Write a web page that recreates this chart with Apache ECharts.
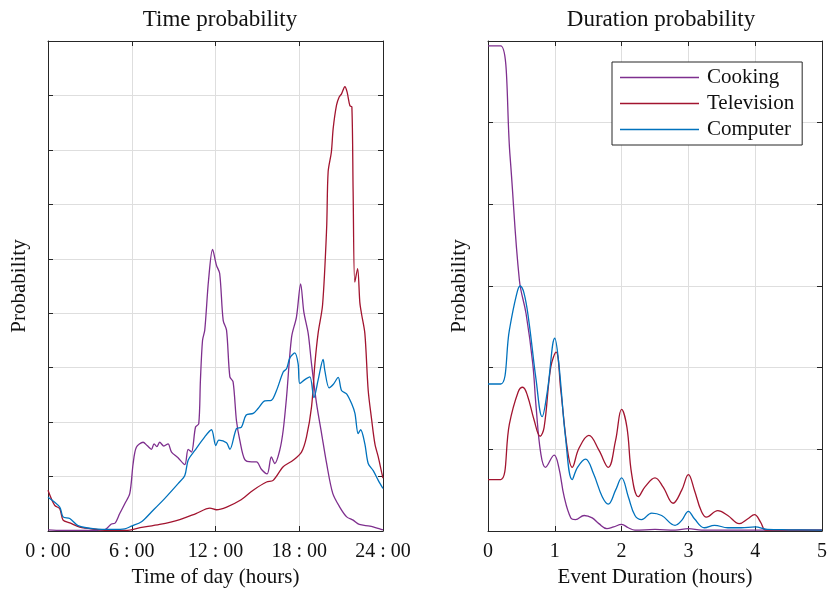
<!DOCTYPE html>
<html>
<head>
<meta charset="utf-8">
<script src="https://cdn.jsdelivr.net/npm/echarts@6/dist/echarts.min.js"></script>
<style>
  html, body { margin: 0; padding: 0; background: #fff; }
  #chart { width: 830px; height: 593px; }
</style>
</head>
<body>
<div id="chart"></div>
<script>
// left panel: time of day (hours) vs probability
const timeTicks = ['0 : 00', '6 : 00', '12 : 00', '18 : 00', '24 : 00'];
const cookingTime = [[0,0.02],[1,0.01],[2,0.01],[3,0.01],[4,0.02],[4.18,0.04],[4.54,0.13],[4.78,0.14],[5.14,0.32],[5.5,0.5],[5.86,0.69],
  [6.1,1.24],[6.33,1.54],[6.81,1.63],[7.1,1.57],[7.41,1.5],[7.6,1.6],[7.8,1.55],[8.0,1.63],[8.3,1.56],[8.6,1.6],[8.85,1.45],[9.3,1.35],
  [9.8,1.22],[10.04,1.5],[10.28,1.45],[10.57,1.91],[10.8,1.97],[10.92,2.77],[11.07,3.5],[11.23,3.69],[11.5,4.6],[11.79,5.17],[12.07,4.88],
  [12.3,4.73],[12.55,3.87],[12.79,3.69],[13.03,2.83],[13.26,2.74],[13.5,2.03],[13.74,1.67],[14.1,1.31],[14.58,1.27],[14.94,1.27],
  [15.3,1.13],[15.7,1.05],[16.0,1.36],[16.25,1.24],[16.6,1.48],[16.85,1.85],[17.09,2.46],[17.45,3.56],[17.8,3.93],[18.1,4.54],
  [18.33,4.02],[18.64,3.63],[18.88,3.07],[19.24,2.34],[19.6,1.79],[19.96,1.24],[20.4,0.69],[20.9,0.44],[21.4,0.26],[21.86,0.2],
  [22.3,0.12],[23.06,0.09],[23.77,0.04],[24,0.02]];
const televisionTime = [[0,0.75],[0.48,0.47],[0.84,0.41],[1.08,0.2],[1.56,0.15],[2.27,0.07],[3.47,0.03],[4.4,0.01],[5.6,0.01],[6.6,0.06],
  [8.0,0.12],[9.44,0.21],[10.6,0.32],[11.6,0.42],[12.07,0.39],[12.8,0.44],[13.74,0.56],[14.7,0.75],[15.66,0.9],[16.13,0.93],[16.85,1.18],
  [17.56,1.3],[18.16,1.45],[18.52,1.73],[18.88,2.28],[19.12,3.07],[19.35,3.63],[19.67,4.15],[19.96,5.55],[20.07,6.6],[20.3,6.96],
  [20.43,7.39],[20.67,7.82],[20.86,7.97],[21.03,8.03],[21.27,8.16],[21.43,8.06],[21.63,7.81],[21.77,7.79],[21.86,6.23],[21.98,4.57],
  [22.18,4.82],[22.34,4.2],[22.46,3.99],[22.7,3.63],[22.94,2.58],[23.18,2.06],[23.42,1.6],[23.66,1.36],[23.9,1.08],[24,0.97]];
const computerTime = [[0,0.62],[0.84,0.44],[1.08,0.26],[1.56,0.23],[2.15,0.1],[3.35,0.04],[4.66,0.03],[5.5,0.04],[5.98,0.09],[6.7,0.17],
  [7.41,0.35],[8.37,0.6],[9.32,0.87],[9.8,1.02],[10.04,1.3],[10.52,1.48],[11.23,1.73],[11.71,1.86],[12.02,1.57],[12.24,1.67],
  [12.79,1.62],[13.03,1.5],[13.5,1.88],[13.86,1.91],[14.2,2.13],[14.7,2.16],[15.05,2.25],[15.53,2.39],[16.0,2.4],[16.37,2.58],
  [16.85,2.92],[17.09,2.98],[17.33,3.18],[17.68,3.27],[17.92,3.07],[18.04,2.71],[18.4,2.78],[18.76,2.83],[19.05,2.45],[19.35,2.77],
  [19.71,3.15],[19.83,2.95],[20.14,2.63],[20.43,2.69],[20.79,2.82],[21.03,2.58],[21.39,2.52],[21.75,2.34],[21.99,2.16],[22.22,1.79],
  [22.4,1.86],[22.7,1.6],[22.94,1.24],[23.3,1.11],[23.66,0.93],[24,0.78]];

// right panel: event duration (hours) vs probability
const cookingDur = [[0,5.94],[0.19,5.94],[0.33,4.59],[0.47,3.07],[0.57,2.66],[0.67,2.05],[0.72,1.52],[0.79,0.95],[0.86,0.78],[0.99,0.93],
  [1.06,0.78],[1.14,0.42],[1.24,0.16],[1.31,0.14],[1.44,0.19],[1.56,0.16],[1.66,0.09],[1.78,0.03],[1.88,0.05],[2.0,0.08],[2.1,0.04],
  [2.2,0.01],[2.5,0.02],[2.8,0.01],[3.0,0.03],[3.2,0.01],[4.0,0.01],[5.0,0.01]];
const televisionDur = [[0,0.63],[0.19,0.63],[0.32,1.31],[0.45,1.7],[0.52,1.76],[0.59,1.66],[0.69,1.36],[0.78,1.16],[0.84,1.27],[0.94,2.01],
  [1.02,2.19],[1.09,1.72],[1.19,0.99],[1.26,0.78],[1.36,1.01],[1.51,1.17],[1.66,0.99],[1.8,0.78],[1.91,1.11],[2.0,1.49],[2.08,1.27],
  [2.15,0.7],[2.25,0.42],[2.35,0.54],[2.5,0.65],[2.62,0.54],[2.77,0.34],[2.9,0.5],[3.0,0.69],[3.09,0.5],[3.19,0.25],[3.27,0.17],
  [3.44,0.25],[3.59,0.19],[3.76,0.09],[3.89,0.15],[3.99,0.2],[4.08,0.11],[4.16,0.01],[4.5,0.01],[5.0,0.01]];
const computerDur = [[0,1.8],[0.19,1.8],[0.32,2.46],[0.42,2.87],[0.48,3.0],[0.54,2.91],[0.61,2.58],[0.72,1.85],[0.81,1.4],[0.89,1.72],
  [1.0,2.36],[1.06,2.05],[1.16,1.15],[1.26,0.63],[1.34,0.78],[1.46,0.88],[1.58,0.7],[1.71,0.42],[1.8,0.33],[1.91,0.5],[2.0,0.65],
  [2.1,0.42],[2.2,0.19],[2.3,0.14],[2.45,0.22],[2.6,0.19],[2.8,0.07],[2.9,0.13],[3.0,0.24],[3.09,0.15],[3.24,0.04],[3.39,0.07],
  [3.59,0.04],[3.79,0.04],[4.0,0.05],[4.18,0.02],[4.5,0.015],[5.0,0.01]];

const colors = { Cooking: '#7E2F8E', Television: '#A2142F', Computer: '#0072BD' };
const serif = '"Liberation Serif", "DejaVu Serif", serif';
const frame = '#262626';
const gridColor = '#dedede';

function xAxisPair(gridIndex, min, max, interval, labels, name) {
  const base = {
    gridIndex, type: 'value', min, max, interval,
    axisLine: { show: true, onZero: false, lineStyle: { color: frame, width: 1 } },
    axisTick: { show: true, inside: true, length: 5, lineStyle: { color: frame } }
  };
  return [
    Object.assign({}, base, {
      position: 'bottom',
      splitLine: { show: true, lineStyle: { color: gridColor } },
      axisLabel: {
        color: '#111', fontFamily: serif, fontSize: 20, margin: 11,
        formatter: labels ? (v => labels[Math.round((v - min) / interval)]) : (v => String(v))
      },
      name, nameLocation: 'middle', nameGap: 35,
      nameTextStyle: { color: '#111', fontFamily: serif, fontSize: 21 }
    }),
    Object.assign({}, base, { position: 'top', splitLine: { show: false }, axisLabel: { show: false } })
  ];
}

function yAxisPair(gridIndex, max) {
  const base = {
    gridIndex, type: 'value', min: 0, max, interval: 1,
    axisLine: { show: true, onZero: false, lineStyle: { color: frame, width: 1 } },
    axisTick: { show: true, inside: true, length: 5, lineStyle: { color: frame } },
    axisLabel: { show: false }
  };
  return [
    Object.assign({}, base, {
      position: 'left',
      splitLine: { show: true, lineStyle: { color: gridColor } },
      name: 'Probability', nameLocation: 'middle', nameGap: 18, nameRotate: 90,
      nameTextStyle: { color: '#111', fontFamily: serif, fontSize: 21 }
    }),
    Object.assign({}, base, { position: 'right', splitLine: { show: false } })
  ];
}

function lineSeries(name, data, xi, yi, smooth) {
  return {
    name, type: 'line', data, xAxisIndex: xi, yAxisIndex: yi,
    showSymbol: false, smooth, clip: true,
    lineStyle: { color: colors[name], width: 1.3 },
    itemStyle: { color: colors[name] }
  };
}

const chart = echarts.init(document.getElementById('chart'), null, { renderer: 'canvas' });
chart.setOption({
  animation: false,
  backgroundColor: '#fff',
  title: [
    { text: 'Time probability', left: 215, top: 3, textAlign: 'center',
      textStyle: { fontFamily: serif, fontSize: 23, fontWeight: 'normal', color: '#111' } },
    { text: 'Duration probability', left: 656, top: 3, textAlign: 'center',
      textStyle: { fontFamily: serif, fontSize: 23, fontWeight: 'normal', color: '#111' } }
  ],
  grid: [
    { left: 48, right: 447, top: 41, bottom: 62 },
    { left: 488, right: 5, top: 41, bottom: 62 }
  ],
  xAxis: [].concat(
    xAxisPair(0, 0, 24, 6, timeTicks, 'Time of day (hours)'),
    xAxisPair(1, 0, 5, 1, null, 'Event Duration (hours)')
  ),
  yAxis: [].concat(yAxisPair(0, 9), yAxisPair(1, 6)),
  legend: {
    data: ['Cooking', 'Television', 'Computer'],
    orient: 'vertical', left: 612, top: 62,
    backgroundColor: '#fff', borderColor: frame, borderWidth: 1,
    padding: [5, 8, 5, 8], itemGap: 5,
    icon: 'rect', itemWidth: 79, itemHeight: 1.3,
    textStyle: { fontFamily: serif, fontSize: 21, color: '#111', lineHeight: 21, padding: [0, 0, 0, 3] }
  },
  series: [
    lineSeries('Cooking', cookingTime, 0, 0, 0.3),
    lineSeries('Television', televisionTime, 0, 0, 0.3),
    lineSeries('Computer', computerTime, 0, 0, 0.3),
    lineSeries('Cooking', cookingDur, 2, 2, 0.4),
    lineSeries('Television', televisionDur, 2, 2, 0.4),
    lineSeries('Computer', computerDur, 2, 2, 0.4)
  ]
});
</script>
</body>
</html>
